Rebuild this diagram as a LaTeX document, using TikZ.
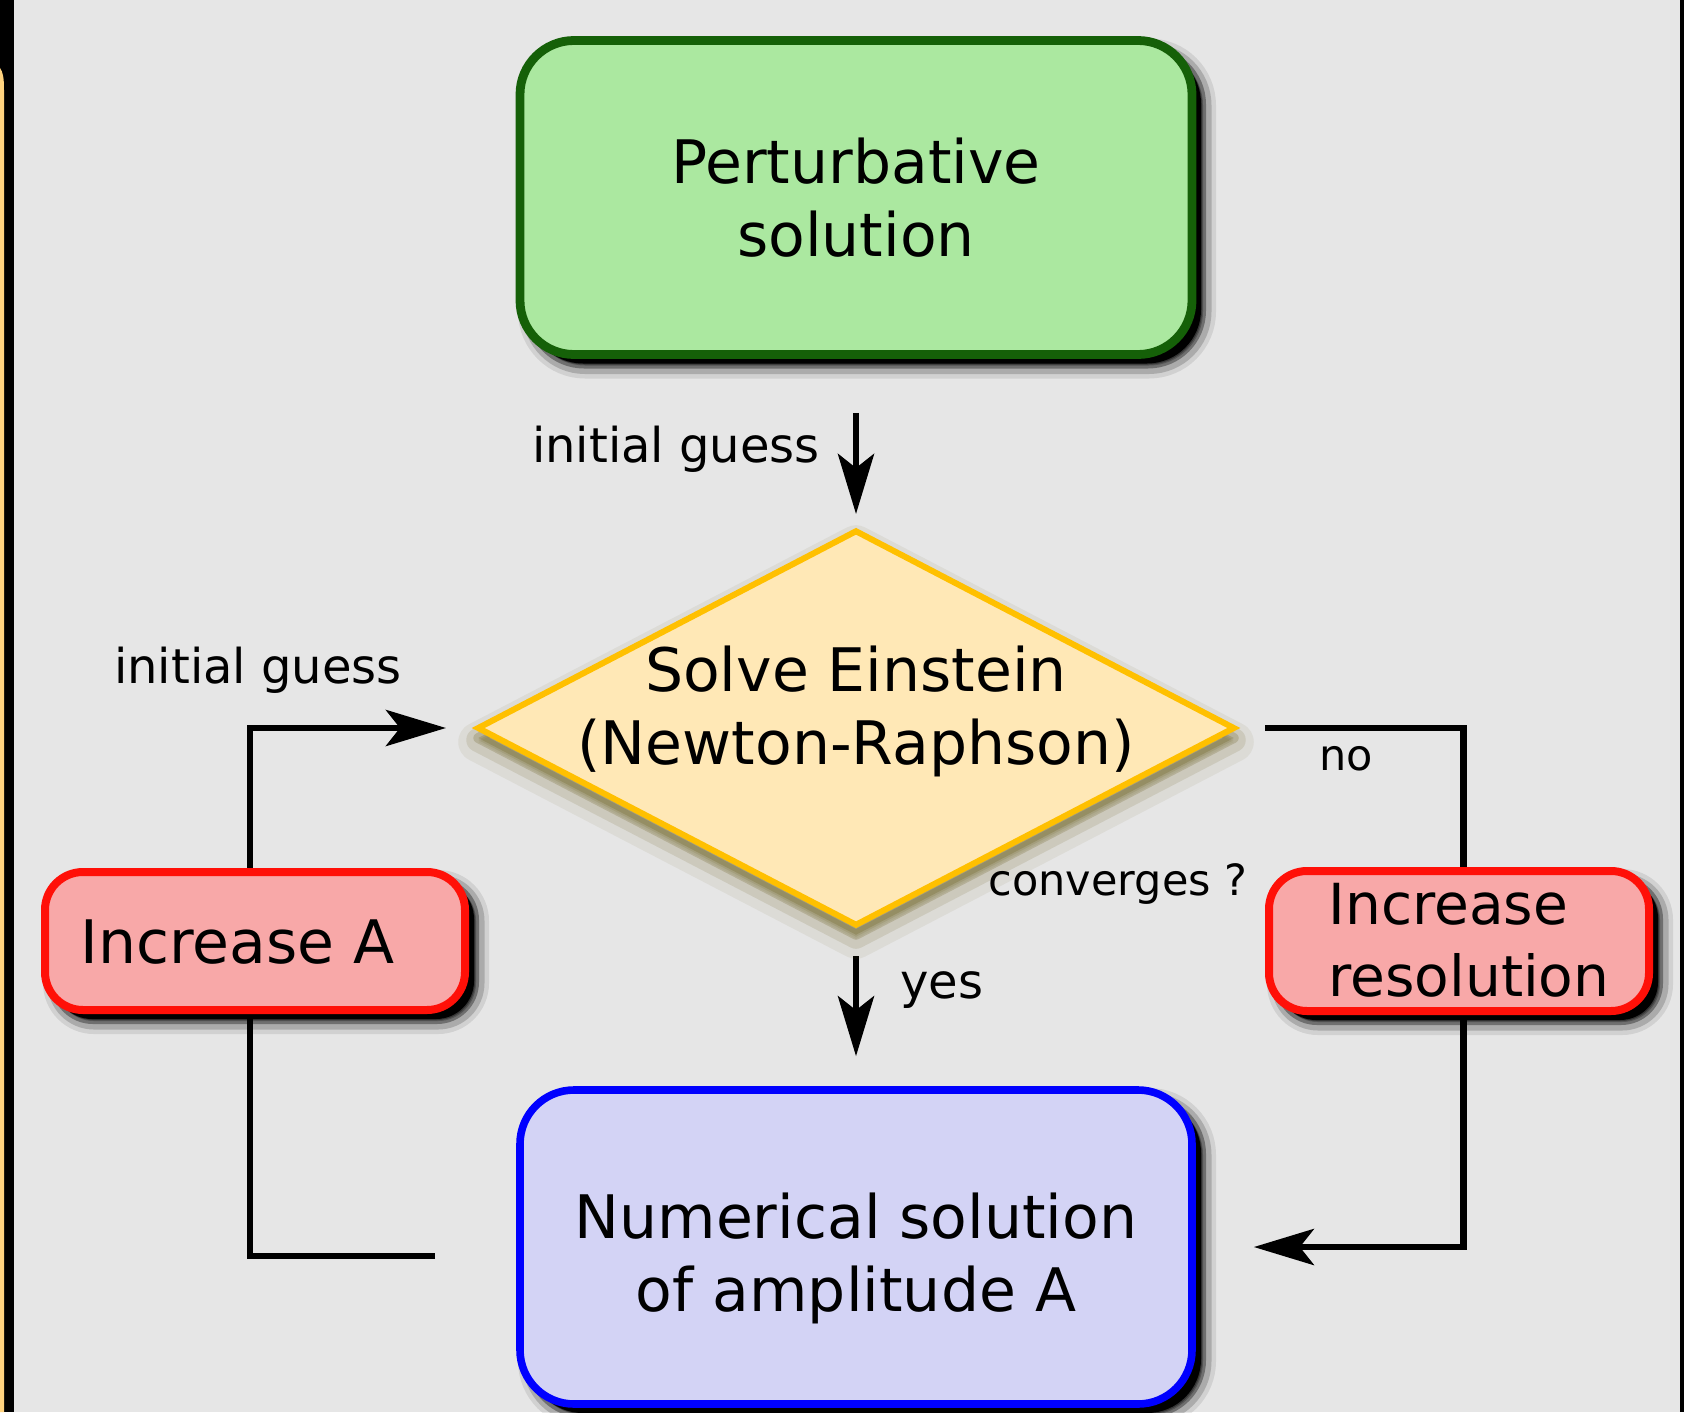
\documentclass[tikz,border=0pt]{standalone}
\usepackage{fontspec}
\setmainfont{DejaVu Sans}
\usetikzlibrary{shapes.geometric,arrows.meta,shadows,backgrounds}
\definecolor{bggray}{HTML}{E6E6E6}
\definecolor{greenfill}{HTML}{ABE8A0}
\definecolor{greenline}{HTML}{156008}
\definecolor{diafill}{HTML}{FFE8B6}
\definecolor{dialine}{HTML}{FFC000}
\definecolor{redfill}{HTML}{F8A8A8}
\definecolor{redline}{HTML}{FF1008}
\definecolor{bluefill}{HTML}{D3D3F5}
\definecolor{blueline}{HTML}{0000FF}
\definecolor{stripyellow}{HTML}{FFD37F}
\definecolor{glow}{HTML}{5C4E08}
\tikzset{
  mainfont/.style={font=\fontsize{30}{36.5}\selectfont, align=center, inner sep=0pt},
  lbl/.style={font=\fontsize{24}{29}\selectfont, inner sep=0pt},
  smalllbl/.style={font=\fontsize{21.5}{26}\selectfont, inner sep=0pt},
  softshadow/.style={
    drop shadow={shadow xshift=5.5pt, shadow yshift=-5.5pt, fill=black, draw=black, line width=13pt, opacity=0.09},
    drop shadow={shadow xshift=5.5pt, shadow yshift=-5.5pt, fill=black, draw=black, line width=8.5pt, opacity=0.18},
    drop shadow={shadow xshift=5pt, shadow yshift=-5pt, fill=black, draw=black, line width=4pt, opacity=0.35},
    drop shadow={shadow xshift=4.5pt, shadow yshift=-4.5pt, fill=black, opacity=1}},
  softglow/.style={
    drop shadow={shadow xshift=0pt, shadow yshift=-7pt, fill=glow, draw=glow, line join=round, line width=20pt, opacity=0.07},
    drop shadow={shadow xshift=0pt, shadow yshift=-6pt, fill=glow, draw=glow, line join=round, line width=12pt, opacity=0.12},
    drop shadow={shadow xshift=0pt, shadow yshift=-5pt, fill=glow, draw=glow, line join=round, line width=5pt, opacity=0.2}},
  bigbox/.style={draw, rounded corners=27pt, minimum width=336pt, minimum height=157pt, softshadow},
  redbox/.style={draw=redline, fill=redfill, line width=4pt, rounded corners=19pt, softshadow},
  decision/.style={diamond, aspect=1.9, draw=dialine, fill=diafill, line width=3pt, inner sep=0pt,
     minimum width=379pt, minimum height=198pt, softglow},
  conn/.style={line width=3.4pt, -{Stealth[length=30pt, width=18pt, inset=7pt]}}
}
\begin{document}
\begin{tikzpicture}[x=0.5pt, y=-0.5pt]
\useasboundingbox (0,0) rectangle (1684,1412);

\node[bigbox, draw=greenline, fill=greenfill, line width=4.4pt] (pert) at (856,197.5) {};
\node[mainfont] (perttext) at (856,197.5) {Perturbative\\solution};
\node[decision] (solve) at (856,728) {};
\node[mainfont] (solvetext) at (856,711.5) {Solve Einstein\\(Newton-Raphson)};
\node[bigbox, draw=blueline, fill=bluefill, line width=3.8pt] (num) at (856,1247) {};
\node[mainfont] (numtext) at (856,1258.5) {Numerical solution\\of amplitude A};

\node[redbox, minimum width=210pt, minimum height=69pt] (incA) at (255,941) {};
\node[mainfont, anchor=west] (incAtext) at (80,942) {Increase A};
\node[redbox, minimum width=190pt, minimum height=70pt] (incR) at (1459,941) {};
\node[mainfont, font=\fontsize{28.3}{36}\selectfont, align=left, anchor=west] (incRtext) at (1328,940) {Increase\\resolution};

\node[lbl] (guess1) at (676,449) {initial guess};
\node[lbl] (guess2) at (258,670) {initial guess};
\node[smalllbl] (no) at (1346,759) {no};
\node[smalllbl] (conv) at (1118,884) {converges ?};
\node[lbl] (yes) at (942,990) {yes};

\coordinate (lstart) at (435,1256);
\coordinate (lcorner) at (250,728);

\begin{pgfonlayer}{background}
  \fill[bggray] (0,0) rectangle (1684,1412);
  \fill[black] (0,0) rectangle (14,1412);
  \fill[stripyellow] (0,68) .. controls (3,72) and (4,78) .. (4,90) -- (4,1412) -- (0,1412) -- cycle;
  \fill[black] (1680,0) rectangle (1684,1412);

  \draw[conn, shorten <=27pt, shorten >=6.5pt] (pert) -- (solve);
  \draw[conn, shorten <=13.5pt, shorten >=15pt] (solve) -- (num);
  \draw[conn, shorten >=14pt] (lstart) -| (lcorner) -- (solve.west);
  \draw[conn] ([xshift=13.5pt]solve.east) -| ([xshift=134pt]num.east) -- ([xshift=29pt]num.east);
\end{pgfonlayer}
\end{tikzpicture}
\end{document}
